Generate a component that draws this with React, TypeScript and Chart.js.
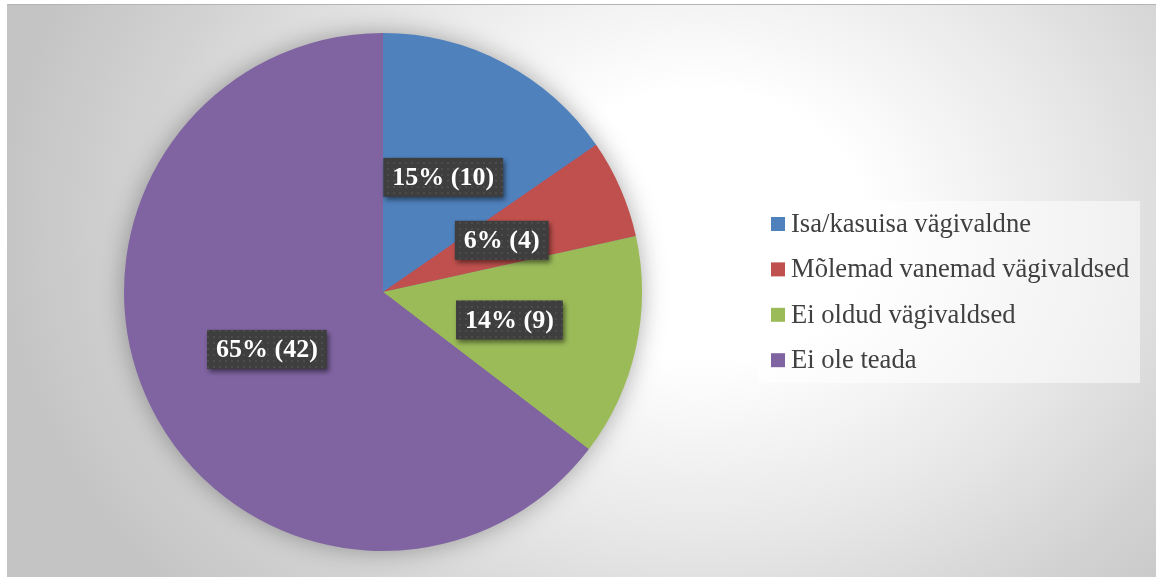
import { useEffect, useRef } from "react";
import { Chart, registerables } from "chart.js";

Chart.register(...registerables);

const categories = [
  "Isa/kasuisa vägivaldne",
  "Mõlemad vanemad vägivaldsed",
  "Ei oldud vägivaldsed",
  "Ei ole teada",
];
const counts = [10, 4, 9, 42];
const sliceColors = ["#4F81BD", "#C0504D", "#9BBB59", "#8064A2"];

const CANVAS_W = 1149;
const CANVAS_H = 573;

function makePattern(ctx: CanvasRenderingContext2D) {
  const c = document.createElement("canvas");
  c.width = 6;
  c.height = 6;
  const p = c.getContext("2d")!;
  p.fillStyle = "#3e3e3e";
  p.fillRect(0, 0, 6, 6);
  p.fillStyle = "#4c4c4c";
  p.fillRect(2, 2, 2, 2);
  return ctx.createPattern(c, "repeat");
}

const pieShadow = {
  id: "pieShadow",
  beforeDatasetsDraw(chart: any) {
    const arc = chart.getDatasetMeta(0).data[0];
    if (!arc) return;
    const { x, y, outerRadius } = arc.getProps(["x", "y", "outerRadius"], true);
    const ctx = chart.ctx;
    ctx.save();
    ctx.shadowColor = "rgba(0,0,0,0.35)";
    ctx.shadowBlur = 26;
    ctx.fillStyle = "#8064A2";
    ctx.beginPath();
    ctx.arc(x, y, outerRadius - 1, 0, Math.PI * 2);
    ctx.fill();
    ctx.restore();
  },
};

const sliceLabels = {
  id: "sliceLabels",
  afterDatasetsDraw(chart: any) {
    const ctx: CanvasRenderingContext2D = chart.ctx;
    const data: number[] = chart.data.datasets[0].data;
    const total = data.reduce((a, b) => a + b, 0);
    const pattern = makePattern(ctx);
    chart.getDatasetMeta(0).data.forEach((arc: any, i: number) => {
      const pos = arc.tooltipPosition(true);
      const pct = Math.round((data[i] / total) * 100);
      const text = `${pct}% (${data[i]})`;
      ctx.save();
      ctx.font = 'bold 26px "Liberation Serif", "Times New Roman", serif';
      const tw = ctx.measureText(text).width;
      const bw = tw + 18;
      const bh = 39;
      ctx.shadowColor = "rgba(0,0,0,0.5)";
      ctx.shadowBlur = 5;
      ctx.shadowOffsetX = 2;
      ctx.shadowOffsetY = 3;
      ctx.fillStyle = pattern || "#3e3e3e";
      ctx.fillRect(pos.x - bw / 2, pos.y - bh / 2, bw, bh);
      ctx.shadowColor = "transparent";
      ctx.shadowBlur = 0;
      ctx.shadowOffsetX = 0;
      ctx.shadowOffsetY = 0;
      ctx.fillStyle = "#ffffff";
      ctx.textAlign = "center";
      ctx.textBaseline = "middle";
      ctx.fillText(text, pos.x, pos.y + 1);
      ctx.restore();
    });
  },
};

const sideLegend = {
  id: "sideLegend",
  afterDraw(chart: any) {
    const ctx: CanvasRenderingContext2D = chart.ctx;
    const labels: string[] = chart.data.labels;
    const colors: string[] = chart.data.datasets[0].backgroundColor;
    const boxX = 751;
    const boxY = 197;
    const boxW = 382;
    const boxH = 182;
    ctx.save();
    ctx.fillStyle = "rgba(255,255,255,0.5)";
    ctx.fillRect(boxX, boxY, boxW, boxH);
    const rowStart = 220;
    const rowGap = 45.4;
    ctx.font = '26.6px "Liberation Serif", "Times New Roman", serif';
    ctx.textBaseline = "middle";
    ctx.textAlign = "left";
    labels.forEach((lab, i) => {
      const cy = rowStart + i * rowGap;
      ctx.fillStyle = colors[i];
      ctx.fillRect(764, cy - 7, 14, 14);
      ctx.fillStyle = "#404040";
      ctx.fillText(lab, 784, cy + 1);
    });
    ctx.restore();
  },
};

export default function App() {
  const ref = useRef<HTMLCanvasElement | null>(null);

  useEffect(() => {
    if (!ref.current) return;
    const chart = new Chart(ref.current, {
      type: "pie",
      data: {
        labels: categories,
        datasets: [
          {
            data: counts,
            backgroundColor: sliceColors,
            borderWidth: 0,
          },
        ],
      },
      options: {
        responsive: false,
        animation: false,
        devicePixelRatio: 1,
        layout: { padding: { left: 117, right: 514, top: 29, bottom: 26 } },
        plugins: {
          legend: { display: false },
          tooltip: { enabled: false },
        },
      },
      plugins: [pieShadow, sliceLabels, sideLegend],
    });
    return () => chart.destroy();
  }, []);

  return (
    <div
      style={{
        position: "absolute",
        left: 0,
        top: 0,
        width: 1156,
        height: 578,
        background: "#ffffff",
        overflow: "hidden",
      }}
    >
      <div
        style={{
          position: "absolute",
          left: 7,
          top: 4,
          width: CANVAS_W,
          height: CANVAS_H,
          borderTop: "1px solid #b4b4b4",
          boxSizing: "border-box",
          background:
            "radial-gradient(ellipse 700px 560px at 690px 220px, #ffffff 0%, #ffffff 24%, #e8e8e8 55%, #d2d2d2 80%, #c4c4c4 100%)",
        }}
      />
      <canvas
        ref={ref}
        width={CANVAS_W}
        height={CANVAS_H}
        style={{ position: "absolute", left: 7, top: 4, width: CANVAS_W, height: CANVAS_H }}
      />
    </div>
  );
}
